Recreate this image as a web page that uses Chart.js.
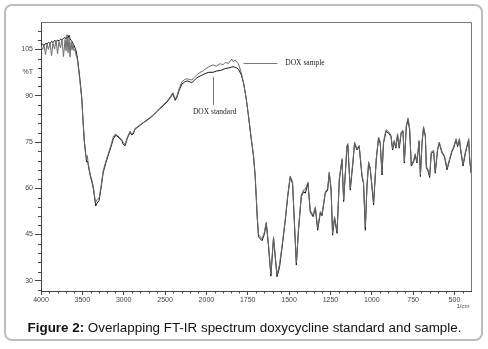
<!DOCTYPE html>
<html><head><meta charset="utf-8">
<script src="https://cdn.jsdelivr.net/npm/chart.js@4.4.1/dist/chart.umd.min.js"></script>
<style>html,body{margin:0;padding:0;background:#fff;}canvas{display:block;}</style>
</head><body>
<canvas id="c" width="488" height="349" style="width:488px;height:349px"></canvas>
<script>
const wavenumbers = [4000,3980,3964,3945,3927,3910,3891,3873,3855,3836,3818,3800,3782,3764,3746,3728,3709,3697,3685,3673,3661,3649,3637,3625,3613,3600,3588,3576,3564,3552,3528,3507,3492,3476,3459,3449,3440,3431,3419,3400,3386,3364,3350,3338,3322,3298,3274,3249,3213,3189,3153,3128,3105,3083,3056,3023,3007,2983,2965,2950,2922,2904,2886,2862,2830,2801,2760,2720,2680,2644,2600,2559,2520,2478,2438,2405,2378,2357,2329,2297,2265,2236,2205,2176,2145,2115,2075,2045,2015,1985,1959,1940,1916,1900,1886,1866,1846,1836,1826,1816,1806,1789,1775,1759,1745,1729,1715,1705,1692,1685,1664,1650,1638,1624,1610,1594,1573,1558,1543,1523,1507,1493,1479,1469,1456,1443,1426,1412,1402,1386,1372,1355,1341,1327,1311,1301,1281,1267,1257,1246,1237,1225,1210,1196,1180,1170,1150,1145,1130,1114,1104,1090,1076,1059,1050,1039,1029,1019,1009,999,989,973,959,949,938,929,914,898,884,874,864,854,844,834,822,811,803,791,781,771,761,747,737,727,714,706,696,687,676,670,660,650,640,626,616,602,592,575,561,545,529,515,505,490,481,470,460,448,434,424,414,408,400];

const standardT = [106.5,106.8,106.2,107.0,106.8,107.3,106.9,107.6,107.2,107.9,107.5,108.0,107.8,108.3,108.0,108.6,108.9,108.4,109.2,108.8,109.6,108.5,108.0,107.6,107.0,106.3,105.5,104.6,103.0,100.7,95.0,89.3,82.0,75.1,71.0,68.5,68.8,68.0,66.0,63.5,62.3,59.5,56.5,54.3,55.2,56.0,60.0,65.0,68.5,70.5,73.5,75.8,77.0,77.0,76.3,75.5,74.3,73.8,75.5,76.6,78.2,77.3,77.6,79.2,79.8,80.4,81.3,82.0,82.8,83.6,84.8,85.9,86.8,87.9,89.3,90.6,88.5,89.4,91.8,93.8,94.4,94.8,94.6,94.2,95.0,95.8,96.4,96.8,97.2,97.6,97.6,98.0,98.2,98.5,98.8,99.0,99.3,99.4,99.2,99.0,98.6,96.8,94.0,89.0,83.2,76.0,70.3,63.8,50.0,44.3,43.0,45.0,48.6,41.0,31.5,43.8,31.3,34.3,40.5,49.5,57.8,63.5,61.6,50.0,35.1,46.4,57.3,58.9,58.4,61.6,52.4,50.8,53.5,46.4,52.0,51.1,58.4,59.4,64.9,59.4,44.8,50.3,45.4,62.7,69.2,55.7,73.5,74.1,59.4,68.2,74.6,72.4,73.5,63.8,61.6,46.4,60.5,68.2,66.0,60.5,54.6,69.2,76.2,74.6,64.3,74.6,78.4,77.9,76.8,72.4,75.1,73.0,77.3,73.0,77.9,78.4,68.2,80.0,82.2,79.0,67.2,68.6,70.8,68.2,75.1,63.8,74.6,79.5,76.8,66.7,65.6,63.5,71.4,71.9,64.9,72.4,74.6,71.4,70.3,66.0,69.2,71.9,73.0,75.7,73.5,75.7,71.4,67.2,71.4,73.5,75.7,69.2,65.0];

const sampleT = [106.0,105.0,106.5,103.4,106.8,105.0,107.2,103.0,107.0,105.2,108.0,103.6,107.6,105.5,108.4,102.7,108.2,104.6,109.8,104.0,109.0,102.6,107.5,104.8,106.8,104.5,105.0,103.0,102.3,100.2,94.5,89.0,82.0,75.5,70.5,70.3,70.6,68.5,66.5,64.0,62.8,60.0,57.0,55.5,56.3,56.8,60.5,65.5,69.0,71.0,74.0,76.5,77.5,77.3,76.6,75.8,74.8,74.2,75.8,76.9,78.5,77.6,77.9,79.4,80.0,80.6,81.4,82.2,83.0,83.8,85.0,86.1,87.0,88.2,89.6,91.0,88.9,89.9,92.3,94.5,95.2,95.5,95.3,95.1,96.0,96.8,97.6,97.9,98.6,99.4,100.0,99.6,100.4,100.0,100.8,100.5,101.9,101.0,101.6,100.9,100.3,97.5,94.1,89.0,83.4,76.3,70.6,64.2,50.5,45.0,43.6,45.6,49.0,41.6,32.2,44.3,32.0,35.3,41.1,50.0,58.3,64.0,62.0,50.6,35.8,47.0,57.8,59.5,59.5,62.0,52.8,51.3,54.0,47.0,52.5,51.6,58.8,59.9,65.3,59.9,45.4,50.8,46.0,63.2,69.6,56.2,73.9,74.5,60.0,68.7,75.0,72.8,73.9,64.3,62.0,47.5,61.0,68.6,66.4,61.0,55.2,69.6,76.6,75.0,64.8,75.0,79.0,78.3,77.2,72.8,75.5,73.4,77.7,73.4,78.3,78.8,68.7,80.4,82.8,79.4,67.7,69.0,71.2,68.6,75.5,64.3,75.0,80.0,77.2,67.2,66.0,64.0,71.8,72.3,65.4,72.8,75.0,71.8,70.7,66.5,69.6,72.3,73.4,76.1,73.9,76.1,71.8,67.7,71.8,73.9,76.1,69.7,65.5];

const xTickWavenumbers = [4000,3500,3000,2500,2000,1750,1500,1250,1000,750,500];
const yTickValues = [30,45,60,75,90,105];
const seriesNames = ['DOX standard','DOX sample'];
const yAxisTitle = '%T';
const xAxisUnit = '1/cm';
const captionBold = 'Figure 2:';
const captionText = ' Overlapping FT-IR spectrum doxycycline standard and sample.';

// piecewise instrument axis: 4000-2000 at 500 per division, 2000-400 at 250 per division
function toAxis(wn){ return wn >= 2000 ? (4000 - wn) / 500 : 4 + (2000 - wn) / 250; }

const standardPts = wavenumbers.map((w,i)=>({x:toAxis(w), y:standardT[i]}));
const samplePts = wavenumbers.map((w,i)=>({x:toAxis(w), y:sampleT[i]}));

const tickFont = {family:'Arial, "Liberation Sans", sans-serif', size:7};

const decorPlugin = {
  id:'decor',
  beforeDraw(chart){
    const ctx = chart.ctx;
    ctx.save();
    ctx.fillStyle = '#fff';
    ctx.fillRect(0,0,chart.width,chart.height);
    ctx.strokeStyle = '#bdbdbd';
    ctx.lineWidth = 2;
    ctx.beginPath();
    ctx.roundRect(5,5,477,335,7);
    ctx.stroke();
    ctx.restore();
  },
  afterDraw(chart){
    const ctx = chart.ctx, a = chart.chartArea, xs = chart.scales.x, ys = chart.scales.y;
    ctx.save();
    // top & right frame of plot
    ctx.strokeStyle = '#777';
    ctx.lineWidth = 1;
    ctx.beginPath();
    ctx.moveTo(a.left, a.top + 0.5); ctx.lineTo(a.right + 0.5, a.top + 0.5); ctx.lineTo(a.right + 0.5, a.bottom);
    ctx.stroke();
    // minor ticks
    ctx.strokeStyle = '#444';
    ctx.beginPath();
    for (let k = 1; k < 52; k++) {
      if (k % 5 === 0) continue;
      const px = Math.round(xs.getPixelForValue(k * 0.2)) + 0.5;
      ctx.moveTo(px, a.bottom); ctx.lineTo(px, a.bottom + 2.5);
    }
    for (let v = 27; v <= 111; v += 3) {
      if (v % 15 === 0) continue;
      const py = Math.round(ys.getPixelForValue(v)) + 0.5;
      ctx.moveTo(a.left - 3, py); ctx.lineTo(a.left, py);
    }
    ctx.stroke();
    // axis title and unit
    ctx.fillStyle = '#444';
    ctx.font = '7px Arial, "Liberation Sans", sans-serif';
    ctx.textAlign = 'right'; ctx.textBaseline = 'middle';
    ctx.fillText(yAxisTitle, 33, ys.getPixelForValue(97.8));
    ctx.textAlign = 'center';
    ctx.font = '6px Arial, "Liberation Sans", sans-serif';
    ctx.fillText(xAxisUnit, 463, 306);
    // annotations
    ctx.strokeStyle = '#555';
    ctx.lineWidth = 0.8;
    ctx.beginPath();
    const y1 = Math.round(ys.getPixelForValue(100.7)) + 0.5;
    ctx.moveTo(xs.getPixelForValue(toAxis(1775)), y1);
    ctx.lineTo(xs.getPixelForValue(toAxis(1570)), y1);
    const xl = Math.round(xs.getPixelForValue(toAxis(1959))) + 0.5;
    ctx.moveTo(xl, ys.getPixelForValue(96.1));
    ctx.lineTo(xl, ys.getPixelForValue(87.0));
    ctx.stroke();
    ctx.fillStyle = '#222';
    ctx.font = '7.5px "Liberation Serif", "DejaVu Serif", serif';
    ctx.textAlign = 'left'; ctx.textBaseline = 'middle';
    ctx.fillText(seriesNames[1], xs.getPixelForValue(toAxis(1523)), y1);
    ctx.textAlign = 'center';
    ctx.fillText(seriesNames[0], xs.getPixelForValue(toAxis(1950)), ys.getPixelForValue(84.6));
    // caption
    ctx.textAlign = 'left'; ctx.textBaseline = 'alphabetic';
    const fb = 'bold 13.4px Arial, "Liberation Sans", sans-serif';
    const fn = '13.4px Arial, "Liberation Sans", sans-serif';
    ctx.font = fb;
    const wb = ctx.measureText(captionBold).width;
    ctx.font = fn;
    const wt = ctx.measureText(captionText).width;
    const x0 = 244.5 - (wb + wt) / 2;
    ctx.fillStyle = '#111';
    ctx.font = fb;
    ctx.fillText(captionBold, x0, 331.5);
    ctx.font = fn;
    ctx.fillText(captionText, x0 + wb, 331.5);
    ctx.restore();
  }
};

new Chart(document.getElementById('c'), {
  type:'line',
  data:{ datasets:[
    {label:seriesNames[1], data:samplePts, borderColor:'#6a6a6a', borderWidth:1, pointRadius:0, tension:0},
    {label:seriesNames[0], data:standardPts, borderColor:'#161616', borderWidth:1, pointRadius:0, tension:0}
  ]},
  options:{
    responsive:false, animation:false, devicePixelRatio:1,
    layout:{padding:{top:22,right:17,left:0,bottom:0}},
    plugins:{legend:{display:false}, tooltip:{enabled:false}},
    scales:{
      x:{type:'linear', min:0, max:10.4,
        afterFit(s){ s.height = 58; },
        afterBuildTicks(s){ s.ticks = xTickWavenumbers.map(w=>({value:toAxis(w)})); },
        ticks:{autoSkip:false, maxRotation:0, minRotation:0, padding:1, font:tickFont, color:'#444',
          callback(v){ const i = xTickWavenumbers.findIndex(w=>Math.abs(toAxis(w)-v)<1e-6); return i>=0 ? String(xTickWavenumbers[i]) : ''; }},
        grid:{drawOnChartArea:false, drawTicks:true, tickLength:4, color:'#444', tickColor:'#444'},
        border:{color:'#444', width:1}
      },
      y:{type:'linear', min:26.7, max:113.9,
        afterFit(s){ s.width = 41; },
        afterBuildTicks(s){ s.ticks = yTickValues.map(v=>({value:v})); },
        ticks:{padding:2, font:tickFont, color:'#444'},
        grid:{drawOnChartArea:false, drawTicks:true, tickLength:6, color:'#444', tickColor:'#444'},
        border:{color:'#444', width:1}
      }
    }
  },
  plugins:[decorPlugin]
});
</script>
</body></html>
